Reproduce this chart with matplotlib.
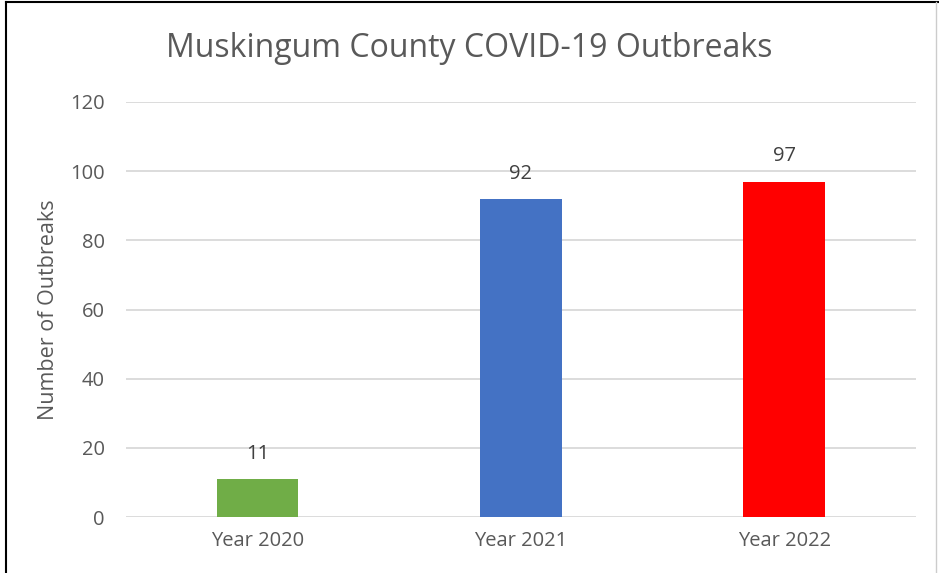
import matplotlib.pyplot as plt
from matplotlib.lines import Line2D

years = ['Year 2020', 'Year 2021', 'Year 2022']
outbreaks = [11, 92, 97]
bar_colors = ['#70AD47', '#4472C4', '#FF0000']

plt.rcParams['font.family'] = ['Open Sans', 'DejaVu Sans']

fig = plt.figure(figsize=(9.39, 5.73), dpi=100)
ax = fig.add_axes([0.134, 0.0977, 0.8415, 0.7243])

bars = ax.bar(years, outbreaks, color=bar_colors, width=0.31, zorder=3)
ax.set_xlim(-0.5, 2.5)
ax.set_ylim(0, 120)
ax.set_yticks(range(0, 121, 20))
ax.grid(axis='y', color='#d9d9d9', linewidth=1.3, zorder=0)
for s in ax.spines.values():
    s.set_visible(False)
ax.tick_params(length=0, labelsize=14.5, labelcolor='#595959')
ax.tick_params(axis='y', pad=15)
ax.tick_params(axis='x', pad=10)

for b, v in zip(bars, outbreaks):
    ax.annotate(str(v), (b.get_x() + b.get_width() / 2, v), xytext=(0, 11),
                textcoords='offset points', ha='center', va='bottom',
                fontsize=14.5, color='#404040')

ax.set_ylabel('Number of Outbreaks', fontsize=15.5, color='#595959', labelpad=8)
fig.text(0.5, 0.916, 'Muskingum County COVID-19 Outbreaks', ha='center', va='center',
         fontsize=23, color='#595959')

# frame around the chart
fig.add_artist(Line2D([0.006, 0.006], [0, 0.997], color='black', lw=1.5))
fig.add_artist(Line2D([0.006, 1], [0.996, 0.996], color='black', lw=1.5))
fig.add_artist(Line2D([0.997, 0.997], [0, 0.996], color='#cccccc', lw=1))

fig.savefig('out.png', dpi=100)
